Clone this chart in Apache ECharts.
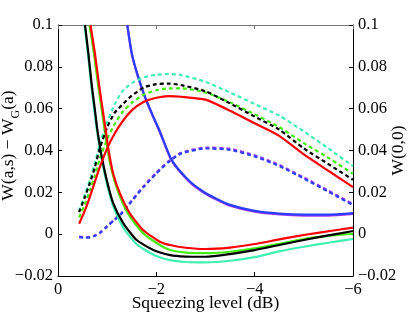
<!DOCTYPE html>
<html>
<head>
<meta charset="utf-8">
<script src="https://cdn.jsdelivr.net/npm/echarts@6/dist/echarts.min.js"></script>
<style>
  html, body { margin: 0; padding: 0; background: #fff; }
  #chart { width: 408px; height: 332px; }
</style>
</head>
<body>
<div id="chart"></div>
<script>
// squeezing level (dB), shared by the dashed curves
var xDashed = [-0.43, -0.55, -0.65, -0.75, -0.85, -1.0, -1.15, -1.3, -1.5, -1.75, -2.0, -2.25, -2.5, -3.0, -3.5, -4.0, -4.5, -5.0, -5.5, -6.0];
var cyanDashed   = [0.011, 0.019, 0.026, 0.034, 0.043, 0.0535, 0.062, 0.068, 0.0722, 0.075, 0.0762, 0.0766, 0.0761, 0.0728, 0.0677, 0.0622, 0.0567, 0.0491, 0.041, 0.0325];
var blackDashed  = [0.0105, 0.018, 0.0245, 0.032, 0.041, 0.051, 0.058, 0.0617, 0.0662, 0.0702, 0.0717, 0.072, 0.0713, 0.0683, 0.0625, 0.0562, 0.050, 0.041, 0.0335, 0.026];
var greenDashed  = [0.008, 0.0145, 0.021, 0.028, 0.036, 0.0455, 0.0525, 0.058, 0.0628, 0.0668, 0.0688, 0.0697, 0.0697, 0.0678, 0.063, 0.0573, 0.0512, 0.0435, 0.0365, 0.0288];
var redRising    = [0.005, 0.0115, 0.018, 0.025, 0.032, 0.041, 0.048, 0.0535, 0.0592, 0.0633, 0.0652, 0.066, 0.0657, 0.0643, 0.059, 0.053, 0.047, 0.0381, 0.0303, 0.0225];
var blueDashed   = [-0.0014, -0.0017, -0.0015, -0.0008, 0.0005, 0.0037, 0.0068, 0.01, 0.0158, 0.0228, 0.029, 0.0345, 0.0385, 0.041, 0.0403, 0.0372, 0.0326, 0.0266, 0.0203, 0.0139];
var purpleDashed = [-0.0012, -0.0015, -0.0013, -0.0006, 0.0007, 0.0039, 0.0071, 0.0104, 0.0162, 0.0232, 0.0294, 0.0349, 0.0389, 0.0414, 0.0408, 0.0377, 0.0331, 0.0271, 0.0208, 0.0144];

// solid curves, each with its own x samples
var xBlack = [-0.55, -0.62, -0.69, -0.75, -0.8, -0.89, -0.99, -1.12, -1.33, -1.6, -1.94, -2.28, -2.6, -3.0, -3.5, -4.0, -4.5, -5.0, -5.5, -6.0];
var blackSolid = [0.1, 0.086, 0.0705, 0.0595, 0.05, 0.037, 0.026, 0.015, 0.0052, -0.0028, -0.0076, -0.01, -0.0107, -0.0108, -0.0095, -0.0076, -0.0052, -0.0028, -0.0006, 0.0015];
var xCyan = [-0.54, -0.61, -0.68, -0.74, -0.79, -0.88, -0.98, -1.12, -1.33, -1.6, -1.94, -2.28, -2.6, -3.0, -3.5, -4.0, -4.5, -5.0, -5.5, -6.0];
var cyanSolid = [0.1, 0.086, 0.0705, 0.0595, 0.05, 0.037, 0.0255, 0.0135, 0.003, -0.0048, -0.0098, -0.0124, -0.0133, -0.0135, -0.0127, -0.011, -0.0082, -0.006, -0.0041, -0.0023];
var xRed = [-0.66, -0.75, -0.84, -0.91, -0.97, -1.03, -1.12, -1.26, -1.46, -1.73, -2.07, -2.3, -2.6, -3.0, -3.5, -4.0, -4.5, -5.0, -5.5, -6.0];
var redSolid = [0.1, 0.0865, 0.0705, 0.0593, 0.0498, 0.04, 0.0291, 0.0195, 0.01, 0.002, -0.0036, -0.0053, -0.0065, -0.0071, -0.0064, -0.0047, -0.0025, -0.0004, 0.0014, 0.0031];
var xGreen = [-0.64, -0.73, -0.82, -0.89, -0.95, -1.01, -1.12, -1.26, -1.46, -1.73, -2.07, -2.28, -2.6, -3.0, -3.5, -4.0, -4.5, -5.0, -5.5, -6.0];
var greenSolid = [0.1, 0.0865, 0.0705, 0.0593, 0.0498, 0.04, 0.028, 0.018, 0.0085, 0.0005, -0.0052, -0.0076, -0.0088, -0.0091, -0.0084, -0.0068, -0.0046, -0.0023, -0.0008, 0.0002];
var xBlue = [-1.41, -1.5, -1.63, -1.77, -1.94, -2.06, -2.2, -2.3, -2.45, -2.7, -2.96, -3.2, -3.5, -4.0, -4.5, -5.0, -5.5, -6.0];
var blueSolid   = [0.1, 0.0865, 0.0753, 0.0657, 0.0561, 0.0498, 0.0415, 0.036, 0.031, 0.0248, 0.0203, 0.0172, 0.014, 0.0111, 0.0098, 0.0093, 0.0093, 0.0101];
var purpleSolid = [0.1, 0.0862, 0.0749, 0.0653, 0.0557, 0.0494, 0.0411, 0.0356, 0.0306, 0.0244, 0.0199, 0.0168, 0.0136, 0.0107, 0.0094, 0.0089, 0.0089, 0.0097];

var FONT = 'Liberation Serif';
var BLUE = '#2f3dfa', PURPLE = '#a23cf0', CYAN = '#40f0b0', GREEN = '#44ee11', RED = '#ff0000', BLACK = '#000000';

function pairs(xs, ys) {
  return xs.map(function (x, i) { return [x, ys[i]]; });
}
function minus(v) {
  return v < 0 ? '\u2212' + String(-v) : String(v);
}
function line(data, color, dashed) {
  return {
    type: 'line',
    data: data,
    showSymbol: false,
    smooth: 0.2,
    clip: true,
    lineStyle: { color: color, width: 2.2, type: dashed ? [4, 3] : 'solid' }
  };
}

var chart = echarts.init(document.getElementById('chart'));

var valueAxisY = function (pos, name, gap, namePad) {
  return {
    type: 'value',
    position: pos,
    min: -0.02,
    max: 0.1,
    interval: 0.02,
    name: name,
    nameLocation: 'middle',
    nameGap: gap,
    nameMoveOverlap: false,
    nameTextStyle: {
      fontFamily: FONT, fontSize: 17.5, color: '#000', padding: namePad,
      rich: {
        n: { fontFamily: FONT, fontSize: 17.5, color: '#000', verticalAlign: 'bottom', padding: [0, 0, 5, 0] },
        s: { fontFamily: FONT, fontSize: 12, color: '#000', verticalAlign: 'bottom' }
      }
    },
    axisLine: { show: true, onZero: false, lineStyle: { color: '#000', width: 1 } },
    axisTick: { show: true, inside: true, length: 4, lineStyle: { color: '#000' } },
    axisLabel: { fontFamily: FONT, fontSize: 16.5, color: '#000', margin: 5, formatter: minus },
    splitLine: { show: false }
  };
};

chart.setOption({
  animation: false,
  backgroundColor: '#fff',
  textStyle: { fontFamily: FONT, fontSize: 16, color: '#000' },
  grid: { left: 58, right: 55, top: 25, bottom: 56, containLabel: false, outerBoundsMode: 'none' },
  xAxis: [
    {
      type: 'value',
      position: 'bottom',
      min: -6,
      max: 0,
      interval: 2,
      inverse: true,
      name: 'Squeezing level (dB)',
      nameLocation: 'middle',
      nameGap: 18,
      nameMoveOverlap: false,
      nameTextStyle: { fontFamily: FONT, fontSize: 17.5, color: '#000' },
      axisLine: { onZero: false, lineStyle: { color: '#000', width: 1 } },
      axisTick: { inside: true, length: 4, lineStyle: { color: '#000' } },
      axisLabel: { fontFamily: FONT, fontSize: 16.5, color: '#000', margin: 5, formatter: minus },
      splitLine: { show: false }
    },
    {
      type: 'value',
      position: 'top',
      min: -6,
      max: 0,
      interval: 2,
      inverse: true,
      axisLine: { onZero: false, lineStyle: { color: '#777', width: 1 } },
      axisTick: { inside: true, length: 4, lineStyle: { color: '#777' } },
      axisLabel: { show: false },
      splitLine: { show: false }
    }
  ],
  yAxis: [
    valueAxisY('left', '{n|W(a,s) \u2212 W}{s|G}{n|(a)}', 36, [0, 0, 0, 10]),
    valueAxisY('right', 'W(0,0)', 36, 0)
  ],
  series: [
    line(pairs(xBlue, purpleSolid), PURPLE, false),
    line(pairs(xBlue, blueSolid), BLUE, false),
    line(pairs(xDashed, purpleDashed), PURPLE, true),
    line(pairs(xDashed, blueDashed), BLUE, true),
    line(pairs(xDashed, cyanDashed), CYAN, true),
    line(pairs(xCyan, cyanSolid), CYAN, false),
    line(pairs(xDashed, greenDashed), GREEN, true),
    line(pairs(xGreen, greenSolid), GREEN, false),
    line(pairs(xDashed, blackDashed), BLACK, true),
    line(pairs(xBlack, blackSolid), BLACK, false),
    line(pairs(xRed, redSolid), RED, false),
    line(pairs(xDashed, redRising), RED, false)
  ]
});
</script>
</body>
</html>
